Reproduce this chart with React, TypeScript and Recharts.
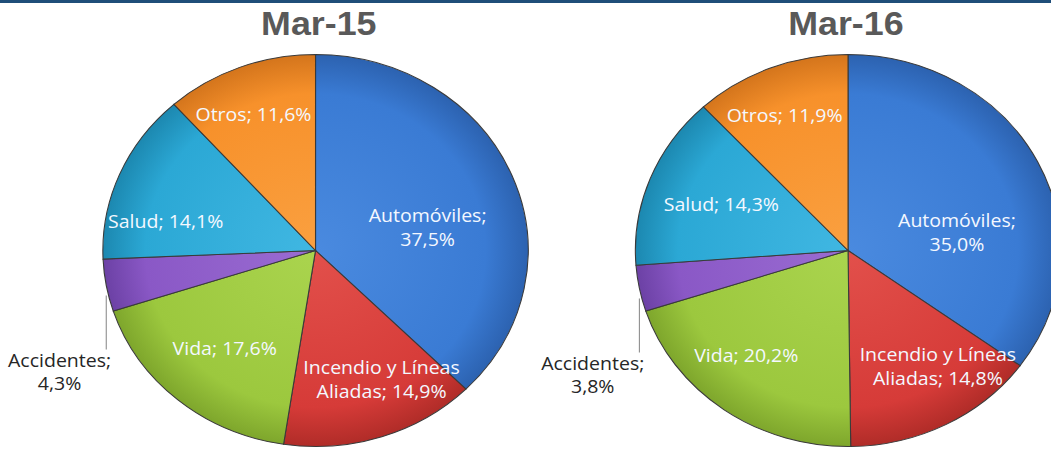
import React from 'react';
import { PieChart, Pie, Cell } from 'recharts';

const categories = ['Automóviles', 'Incendio y Líneas Aliadas', 'Vida', 'Accidentes', 'Salud', 'Otros'];
const mar15 = [37.5, 14.9, 17.6, 4.3, 14.1, 11.6];
const mar16 = [35.0, 14.8, 20.2, 3.8, 14.3, 11.9];
const titles = ['Mar-15', 'Mar-16'];

const baseColors = ['#3A7BD4', '#D63B38', '#9CC83E', '#8A58C6', '#2BA8D5', '#F7912B'];
const lightColors = ['#4A8ADF', '#E2504B', '#AAD44E', '#9A6CD2', '#40B7E2', '#FAA040'];
const rimColors = ['#2C62B0', '#B02C28', '#7EA62C', '#6C41A5', '#1C88B0', '#D4751C'];

// label placement (style): [radius fraction, angle offset in degrees]
const labelPos15 = [[0.54, -10], [0.73, 7], [0.66, 0], [1, 0], [0.72, 11], [0.75, 2]];
const labelPos16 = [[0.52, -17], [0.73, 8], [0.72, -6], [1, 0], [0.64, 0], [0.75, 2]];

const SX = 1.085;
const CW = 969;
const CH = 450;
const R = 196;
const CY = 250.5;
const CX = [290.8, 781.6];
const RAD = Math.PI / 180;

const fmt = (v: number) => v.toFixed(1).replace('.', ',') + '%';

function labelLines(name: string, v: number): string[] {
  const s = fmt(v);
  if (name === 'Incendio y Líneas Aliadas') return ['Incendio y Líneas', `Aliadas; ${s}`];
  if (name === 'Automóviles' || name === 'Accidentes') return [`${name};`, s];
  return [`${name}; ${s}`];
}

const FONT = '"Open Sans", sans-serif';

const makeLabel = (values: number[], pos: number[][]) => (props: any) => {
  const { cx, cy, midAngle, outerRadius, index } = props;
  const v = values[index];
  const lines = labelLines(categories[index], v);
  if (v < 5) {
    const ex = cx + outerRadius * Math.cos(-midAngle * RAD);
    const ey = cy + outerRadius * Math.sin(-midAngle * RAD);
    const tx = ex - 43;
    return (
      <g key={`acc-${index}`}>
        <line x1={ex} y1={ey + 10} x2={ex} y2={ey + 64} stroke="#8c8c8c" strokeWidth={1} />
        <text x={tx} y={ey + 75} textAnchor="middle" fill="#262626" fontSize={18} fontFamily={FONT}>
          {lines.map((l, i) => (
            <tspan key={i} x={tx} dy={i === 0 ? '0.35em' : 23}>{l}</tspan>
          ))}
        </text>
      </g>
    );
  }
  const [rf, da] = pos[index];
  const a = midAngle + da;
  const x = cx + outerRadius * rf * Math.cos(-a * RAD);
  const y = cy + outerRadius * rf * Math.sin(-a * RAD);
  const lh = 24;
  const y0 = y - ((lines.length - 1) * lh) / 2;
  return (
    <text key={`lbl-${index}`} x={x} y={y0} textAnchor="middle" fill="#f4f8ff" fontSize={18} fontFamily={FONT}>
      {lines.map((l, i) => (
        <tspan key={i} x={x} dy={i === 0 ? '0.35em' : lh}>{l}</tspan>
      ))}
    </text>
  );
};

const data15 = categories.map((c, i) => ({ name: c, value: mar15[i] }));
const data16 = categories.map((c, i) => ({ name: c, value: mar16[i] }));

export default function App() {
  return (
    <div style={{ position: 'absolute', left: 0, top: 0, width: 1051, height: 450, overflow: 'hidden', background: '#fff' }}>
      <div style={{ position: 'absolute', left: 0, top: 0, width: 1051, height: 3, background: '#1F4E79' }} />
      <div style={{ position: 'absolute', left: 0, top: 0, width: CW, height: CH, transform: `scaleX(${SX})`, transformOrigin: '0 0' }}>
        <PieChart width={CW} height={CH} margin={{ top: 0, right: 0, bottom: 0, left: 0 }}>
          <defs>
            {[0, 1].map((p) =>
              baseColors.map((c, i) => (
                <radialGradient key={`g${p}-${i}`} id={`g${p}-${i}`} gradientUnits="userSpaceOnUse" cx={CX[p]} cy={CY} r={R}>
                  <stop offset="0%" stopColor={lightColors[i]} />
                  <stop offset="80%" stopColor={c} />
                  <stop offset="100%" stopColor={rimColors[i]} />
                </radialGradient>
              ))
            )}
          </defs>
          <Pie
            data={data15}
            dataKey="value"
            nameKey="name"
            cx={CX[0]}
            cy={CY}
            outerRadius={R}
            startAngle={90}
            endAngle={-270}
            label={makeLabel(mar15, labelPos15)}
            labelLine={false}
            isAnimationActive={false}
            stroke="#3a3a3a"
            strokeWidth={1}
          >
            {data15.map((d, i) => (
              <Cell key={i} fill={`url(#g0-${i})`} />
            ))}
          </Pie>
          <Pie
            data={data16}
            dataKey="value"
            nameKey="name"
            cx={CX[1]}
            cy={CY}
            outerRadius={R}
            startAngle={90}
            endAngle={-270}
            label={makeLabel(mar16, labelPos16)}
            labelLine={false}
            isAnimationActive={false}
            stroke="#3a3a3a"
            strokeWidth={1}
          >
            {data16.map((d, i) => (
              <Cell key={i} fill={`url(#g1-${i})`} />
            ))}
          </Pie>
        </PieChart>
        <svg width={CW} height={CH} style={{ position: 'absolute', left: 0, top: 0, pointerEvents: 'none' }}>
          {titles.map((t, i) => (
            <text key={t} x={CX[i] + (i === 0 ? 3 : -2)} y={35} textAnchor="middle" fill="#595959" fontSize={33} fontWeight="bold" fontFamily='"Liberation Sans", Arial, sans-serif'>
              {t}
            </text>
          ))}
        </svg>
      </div>
    </div>
  );
}
